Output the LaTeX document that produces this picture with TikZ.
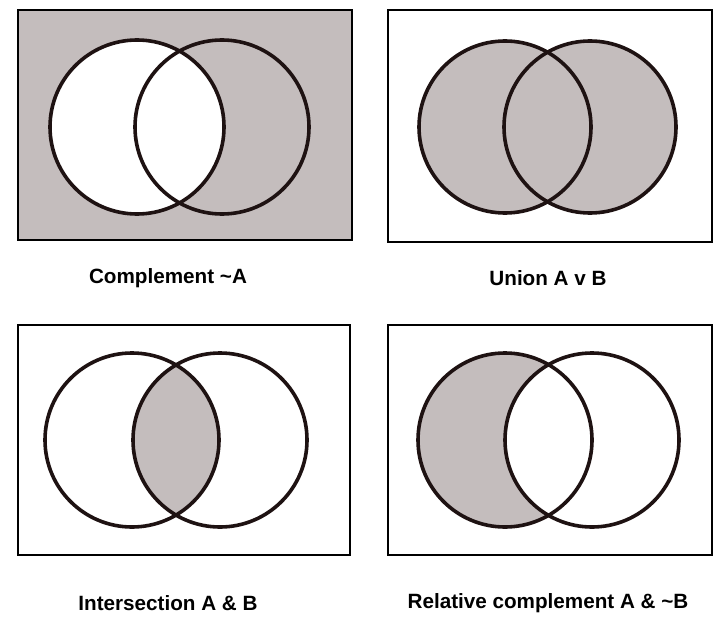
\documentclass[tikz,border=0pt]{standalone}
\usepackage{fontspec}
\setmainfont{Liberation Sans}
\definecolor{vennfill}{HTML}{C4BDBD}
\definecolor{ink}{HTML}{1E1212}
\begin{document}
\begin{tikzpicture}[x=0.75pt, y=-0.75pt,
    box/.style={draw=black, line width=1.6pt},
    ring/.style={draw=ink, line width=2.7pt},
    lab/.style={font=\bfseries\fontsize{15.5}{18}\selectfont}]
    \useasboundingbox (0,0) rectangle (720,624);

    % Complement ~A
    \fill[vennfill] (18,10) rectangle (352,240);
    \fill[white] (137,127) circle (87);
    \draw[box] (18,10) rectangle (352,240);
    \draw[ring] (137,127) circle (87);
    \draw[ring] (222,127) circle (87);
    \node[lab] (c1) at (168,278) {Complement \char`~A};

    % Union A v B
    \fill[vennfill] (505,127) circle (86);
    \fill[vennfill] (590,127) circle (86);
    \draw[box] (388,10) rectangle (712,242);
    \draw[ring] (505,127) circle (86);
    \draw[ring] (590,127) circle (86);
    \node[lab] (c2) at (548,278) {Union A v B};

    % Intersection A & B
    \begin{scope}
        \clip (132,440) circle (87);
        \fill[vennfill] (220,440) circle (87);
    \end{scope}
    \draw[box] (18,325) rectangle (350,555);
    \draw[ring] (132,440) circle (87);
    \draw[ring] (220,440) circle (87);
    \node[lab] (c3) at (168,603) {Intersection A \& B};

    % Relative complement A & ~B
    \fill[vennfill] (505,440) circle (87);
    \fill[white] (592,440) circle (87);
    \draw[box] (388,325) rectangle (712,555);
    \draw[ring] (505,440) circle (87);
    \draw[ring] (592,440) circle (87);
    \node[lab] (c4) at (548,603) {Relative complement A \& \char`~B};
\end{tikzpicture}
\end{document}
